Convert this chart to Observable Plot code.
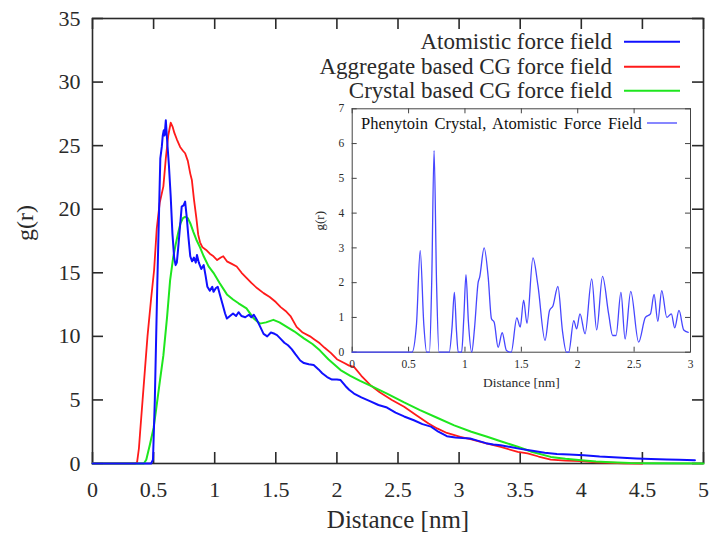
<!DOCTYPE html>
<html><head><meta charset="utf-8">
<script src="https://cdn.jsdelivr.net/npm/d3@7"></script>
<script src="https://cdn.jsdelivr.net/npm/@observablehq/plot@0.6"></script>
<style>
body{margin:0;background:#fff;}
#wrap{position:relative;width:711px;height:539px;overflow:hidden;}
#wrap svg{position:absolute;}
</style></head><body><div id="wrap"></div>
<script>
// ---------- data ----------
const mainXTicks = [0, 0.5, 1, 1.5, 2, 2.5, 3, 3.5, 4, 4.5, 5];
const mainYTicks = [0, 5, 10, 15, 20, 25, 30, 35];
const insetXTicks = [0, 0.5, 1, 1.5, 2, 2.5, 3];
const insetYTicks = [0, 1, 2, 3, 4, 5, 6, 7];

const seriesNames = ["Atomistic force field", "Aggregate based CG force field", "Crystal based CG force field"];
const seriesColors = ["#1010ff", "#ff1a1a", "#1ee61e"];
const insetName = "Phenytoin Crystal, Atomistic Force Field";
const insetColor = "#4646ff";

const atomistic = [[0,0],[0.48,0],[0.495,0.3],[0.51,5],[0.53,14],[0.545,20],[0.555,24],[0.567,24.9],[0.575,25.8],[0.583,26.2],[0.59,25.8],[0.60,27.0],[0.61,25.5],[0.625,23.5],[0.64,21],[0.654,18.1],[0.668,16.2],[0.68,15.6],[0.69,15.8],[0.70,16.8],[0.715,18.5],[0.73,20.2],[0.745,20.3],[0.758,20.6],[0.77,19.5],[0.785,17.8],[0.80,16.3],[0.815,15.9],[0.83,16.2],[0.845,15.8],[0.855,16.4],[0.87,15.8],[0.89,15.3],[0.91,15.6],[0.925,14.8],[0.94,13.9],[0.96,13.6],[0.98,13.9],[0.99,13.5],[1.01,13.8],[1.025,13.9],[1.045,13.2],[1.065,12.5],[1.085,11.8],[1.10,11.4],[1.125,11.6],[1.15,11.8],[1.175,11.6],[1.195,11.9],[1.22,11.6],[1.25,11.5],[1.28,11.7],[1.30,11.5],[1.32,11.7],[1.345,11.3],[1.37,10.8],[1.40,10.2],[1.43,10.0],[1.46,10.3],[1.49,10.2],[1.51,10.1],[1.54,9.8],[1.57,9.5],[1.60,9.3],[1.63,9.0],[1.66,8.6],[1.70,8.1],[1.73,7.9],[1.77,7.8],[1.81,7.74],[1.85,7.4],[1.88,7.1],[1.92,6.8],[1.96,6.6],[2.0,6.6],[2.03,6.56],[2.07,6.1],[2.10,5.8],[2.14,5.5],[2.2,5.2],[2.27,4.9],[2.34,4.6],[2.41,4.4],[2.48,4.0],[2.55,3.7],[2.63,3.4],[2.7,3.1],[2.77,2.9],[2.83,2.5],[2.90,2.15],[2.97,2.05],[3.03,2.0],[3.09,1.97],[3.15,1.8],[3.22,1.6],[3.28,1.5],[3.34,1.44],[3.42,1.3],[3.5,1.15],[3.6,1.0],[3.7,0.85],[3.8,0.75],[3.9,0.7],[4.02,0.65],[4.15,0.55],[4.30,0.47],[4.45,0.4],[4.57,0.36],[4.7,0.32],[4.8,0.29],[4.93,0.26]];

const aggregateCG = [[0,0],[0.35,0],[0.365,0.1],[0.38,1.2],[0.39,2.5],[0.41,5],[0.43,7.5],[0.45,10],[0.48,13],[0.504,15.2],[0.526,18.5],[0.55,20.5],[0.58,21.8],[0.60,24],[0.62,25.8],[0.64,26.8],[0.655,26.5],[0.67,26],[0.69,25.5],[0.717,24.9],[0.74,24.6],[0.758,24.4],[0.78,23.8],[0.80,22.8],[0.813,22.3],[0.83,20.8],[0.85,19.3],[0.865,18],[0.88,17.4],[0.90,17.0],[0.93,16.8],[0.96,16.5],[0.99,16.3],[1.02,16.0],[1.05,16.2],[1.07,16.3],[1.10,15.9],[1.14,15.7],[1.18,15.5],[1.22,15.0],[1.26,14.6],[1.30,14.2],[1.346,13.8],[1.40,13.4],[1.45,13.1],[1.50,12.7],[1.54,12.3],[1.58,12.0],[1.62,11.6],[1.67,10.75],[1.72,10.3],[1.78,10.0],[1.81,9.8],[1.86,9.45],[1.90,9.1],[1.95,8.7],[2.0,8.2],[2.06,7.9],[2.1,7.7],[2.14,7.6],[2.2,6.9],[2.27,6.2],[2.35,5.6],[2.45,5.0],[2.55,4.46],[2.65,3.8],[2.75,3.15],[2.82,2.76],[2.9,2.4],[3.01,2.1],[3.1,1.9],[3.23,1.57],[3.34,1.3],[3.48,0.91],[3.56,0.79],[3.65,0.55],[3.75,0.31],[3.87,0.22],[4.0,0.18],[4.12,0.1],[4.24,0.06],[4.35,0.02],[4.5,0]];

const crystalCG = [[0,0],[0.42,0],[0.44,0.3],[0.47,1.5],[0.50,2.8],[0.52,4.2],[0.553,6.6],[0.58,8.5],[0.61,11.5],[0.635,14.4],[0.66,16.2],[0.68,17.2],[0.70,18.1],[0.72,18.9],[0.74,19.3],[0.758,19.4],[0.78,19.3],[0.80,18.9],[0.826,18.2],[0.85,17.6],[0.88,17.0],[0.91,16.3],[0.95,15.5],[0.99,15.0],[1.04,14.2],[1.10,13.3],[1.15,12.9],[1.195,12.6],[1.26,12.2],[1.32,11.4],[1.37,11.0],[1.42,11.1],[1.48,11.3],[1.53,11.1],[1.59,10.75],[1.65,10.4],[1.73,9.84],[1.80,9.4],[1.86,8.9],[1.93,8.2],[2.03,7.35],[2.11,6.9],[2.19,6.5],[2.3,6.0],[2.41,5.5],[2.55,4.8],[2.68,4.2],[2.82,3.6],[2.96,3.0],[3.1,2.5],[3.23,2.1],[3.34,1.75],[3.48,1.32],[3.6,0.9],[3.75,0.52],[3.87,0.38],[4.0,0.26],[4.12,0.16],[4.24,0.1],[4.4,0.04],[4.6,0.01],[5.0,0]];

const crystalInset = [[0,0],[0.53,0],[0.57,0.8],[0.603,2.92],[0.635,0.8],[0.66,0],[0.685,0],[0.705,2.0],[0.726,5.8],[0.748,2.0],[0.77,0],[0.86,0],[0.885,0.7],[0.906,1.72],[0.925,0.6],[0.94,0],[0.97,0],[0.99,1.0],[1.009,2.23],[1.03,0.9],[1.06,0],[1.085,0.7],[1.117,2.01],[1.13,2.15],[1.17,3.0],[1.206,2.16],[1.235,0.96],[1.259,0.86],[1.294,0.14],[1.33,0.56],[1.368,0.05],[1.41,0],[1.46,0.99],[1.49,0.72],[1.52,1.5],[1.55,0.83],[1.603,2.71],[1.647,1.92],[1.71,0.34],[1.75,1.2],[1.78,1.33],[1.824,1.89],[1.865,0.6],[1.9,0],[1.92,0],[1.965,0.91],[1.99,0.67],[2.02,1.1],[2.065,0.53],[2.124,2.11],[2.168,0.64],[2.22,2.18],[2.274,1.1],[2.31,0.48],[2.34,0.48],[2.383,1.72],[2.42,0.38],[2.47,1.75],[2.54,0.29],[2.60,1.0],[2.645,1.1],[2.677,1.66],[2.71,0.89],[2.745,1.77],[2.79,1.0],[2.83,1.1],[2.86,0.7],[2.898,1.2],[2.94,0.64],[2.98,0.57]];

// ---------- layout ----------
const FONT = "Liberation Serif, Times New Roman, serif";
const INK = "#2a2a2a";
const W = 711, H = 539;
const mL = 92, mR = 8, mT = 18, mB = 76;
const pW = W - mL - mR, pH = H - mT - mB;
const TK = 11;
const fmt = d => String(d);

const wrap = document.getElementById("wrap");

const main = Plot.plot({
  width: W, height: H,
  marginLeft: mL, marginRight: mR, marginTop: mT, marginBottom: mB,
  style: {fontFamily: FONT, fontSize: "22px", color: INK, background: "transparent", overflow: "visible"},
  x: {domain: [0, 5]},
  y: {domain: [0, 35]},
  marks: [
    Plot.frame({stroke: INK, strokeWidth: 1.6}),
    Plot.tickX(mainXTicks, {x: d => d, insetTop: pH - TK, stroke: INK, strokeWidth: 1.6}),
    Plot.tickX(mainXTicks, {x: d => d, insetBottom: pH - TK, stroke: INK, strokeWidth: 1.6}),
    Plot.tickY(mainYTicks, {y: d => d, insetRight: pW - TK, stroke: INK, strokeWidth: 1.6}),
    Plot.tickY(mainYTicks, {y: d => d, insetLeft: pW - TK, stroke: INK, strokeWidth: 1.6}),
    Plot.axisX({ticks: mainXTicks, tickSize: 0, tickPadding: 18, tickFormat: fmt, label: null, fill: INK}),
    Plot.axisY({ticks: mainYTicks, tickSize: 0, tickPadding: 12, tickFormat: fmt, label: null, fill: INK}),
    Plot.text(["Distance [nm]"], {text: d => d, frameAnchor: "bottom", dy: 64, fontSize: 25, fill: INK}),
    Plot.text(["g(r)"], {text: d => d, frameAnchor: "left", rotate: -90, dx: -67, fontSize: 24, fill: INK}),
    Plot.line(aggregateCG, {x: d => d[0], y: d => d[1], stroke: seriesColors[1], strokeWidth: 1.8}),
    Plot.line(crystalCG, {x: d => d[0], y: d => d[1], stroke: seriesColors[2], strokeWidth: 2}),
    Plot.line(atomistic, {x: d => d[0], y: d => d[1], stroke: seriesColors[0], strokeWidth: 2})
  ]
});
main.style.left = "0px"; main.style.top = "0px";
wrap.appendChild(main);

// inset
const iX = 300, iY = 100, iWd = 400, iHt = 300;
const iL = 51.7, iR = 10, iT = 8.3, iB = 48.3;
const ipW = iWd - iL - iR, ipH = iHt - iT - iB;
const ITK = 5;
const IINK = "#444";
const inset = Plot.plot({
  width: iWd, height: iHt,
  marginLeft: iL, marginRight: iR, marginTop: iT, marginBottom: iB,
  style: {fontFamily: FONT, fontSize: "11.5px", color: INK, background: "transparent", overflow: "visible"},
  x: {domain: [0, 3]},
  y: {domain: [0, 7]},
  marks: [
    Plot.frame({fill: "white", stroke: IINK, strokeWidth: 1}),
    Plot.tickX(insetXTicks, {x: d => d, insetTop: ipH - ITK, stroke: IINK}),
    Plot.tickX(insetXTicks, {x: d => d, insetBottom: ipH - ITK, stroke: IINK}),
    Plot.tickY(insetYTicks, {y: d => d, insetRight: ipW - ITK, stroke: IINK}),
    Plot.tickY(insetYTicks, {y: d => d, insetLeft: ipW - ITK, stroke: IINK}),
    Plot.axisX({ticks: insetXTicks, tickSize: 0, tickPadding: 8, tickFormat: fmt, label: null, fill: INK}),
    Plot.axisY({ticks: insetYTicks, tickSize: 0, tickPadding: 8, tickFormat: fmt, label: null, fill: INK}),
    Plot.text(["Distance [nm]"], {text: d => d, frameAnchor: "bottom", dy: 35, fontSize: 13.5, fill: INK}),
    Plot.text(["g(r)"], {text: d => d, frameAnchor: "left", rotate: -90, dx: -32, fontSize: 13, fill: INK}),
    Plot.line(crystalInset, {x: d => d[0], y: d => d[1], stroke: insetColor, strokeWidth: 1.3, curve: "monotone-x"})
  ]
});
inset.style.left = iX + "px"; inset.style.top = iY + "px";
wrap.appendChild(inset);

// legends (overlay)
const leg = d3.create("svg").attr("width", W).attr("height", H)
  .style("left", "0px").style("top", "0px").style("font-family", FONT);
const legY = [41.7, 66.7, 90.7];
seriesNames.forEach((name, i) => {
  leg.append("text").attr("x", 612).attr("y", legY[i]).attr("text-anchor", "end")
    .attr("dominant-baseline", "central").attr("font-size", 23).attr("fill", INK).text(name);
  leg.append("line").attr("x1", 624).attr("x2", 680).attr("y1", legY[i]).attr("y2", legY[i])
    .attr("stroke", seriesColors[i]).attr("stroke-width", 2);
});
leg.append("text").attr("x", 361).attr("y", 123).attr("text-anchor", "start")
  .attr("dominant-baseline", "central").attr("font-size", 16.5).attr("fill", "#111")
  .attr("word-spacing", 2.5).text(insetName);
leg.append("line").attr("x1", 647).attr("x2", 677).attr("y1", 123).attr("y2", 123)
  .attr("stroke", insetColor).attr("stroke-width", 1.3);
wrap.appendChild(leg.node());
</script></body></html>
